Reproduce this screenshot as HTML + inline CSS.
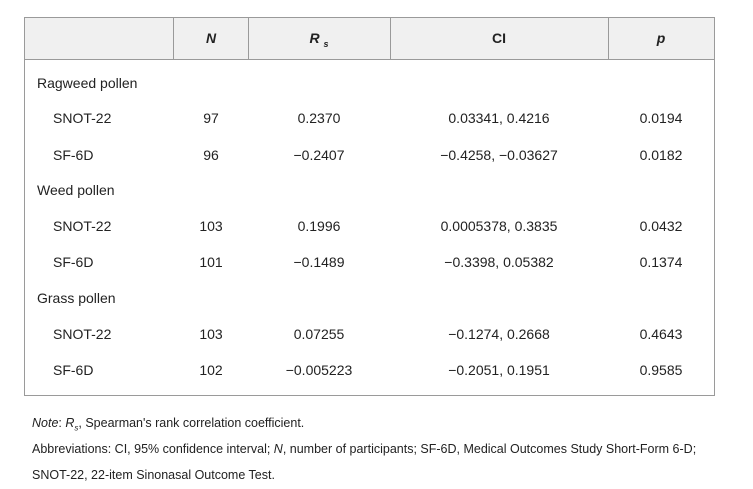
<!DOCTYPE html>
<html><head><meta charset="utf-8"><style>
body{margin:0;width:753px;height:489px;background:#fff;font-family:"Liberation Sans",sans-serif;color:#222;position:relative;overflow:hidden}
.t{position:absolute;font-size:14px;line-height:16px;white-space:nowrap}
.c{transform:translateX(-50%)}
.n{position:absolute;font-size:12.5px;left:32px;white-space:nowrap;line-height:14px}
</style></head><body>
<div style="position:absolute;left:24px;top:17px;width:689px;height:377px;border:1px solid #9a9a9a"></div>
<div style="position:absolute;left:25px;top:18px;width:689px;height:41px;background:#f0f0f0;border-bottom:1px solid #9a9a9a"></div>
<div style="position:absolute;left:173px;top:18px;width:1px;height:41px;background:#9a9a9a"></div>
<div style="position:absolute;left:248px;top:18px;width:1px;height:41px;background:#9a9a9a"></div>
<div style="position:absolute;left:390px;top:18px;width:1px;height:41px;background:#9a9a9a"></div>
<div style="position:absolute;left:608px;top:18px;width:1px;height:41px;background:#9a9a9a"></div>
<div class="t c" style="left:211px;top:30px;font-weight:bold;font-style:italic">N</div>
<div class="t c" style="left:319px;top:30px;font-weight:bold;font-style:italic">R <sub style="font-size:9px">s</sub></div>
<div class="t c" style="left:499px;top:30px;font-weight:bold">CI</div>
<div class="t c" style="left:661px;top:30px;font-weight:bold;font-style:italic">p</div>

<div class="t" style="left:37px;top:75px">Ragweed pollen</div>
<div class="t" style="left:53px;top:110px">SNOT-22</div><div class="t c" style="left:211px;top:110px">97</div><div class="t c" style="left:319px;top:110px">0.2370</div><div class="t c" style="left:499px;top:110px">0.03341, 0.4216</div><div class="t c" style="left:661px;top:110px">0.0194</div>
<div class="t" style="left:53px;top:147px">SF-6D</div><div class="t c" style="left:211px;top:147px">96</div><div class="t c" style="left:319px;top:147px">−0.2407</div><div class="t c" style="left:499px;top:147px">−0.4258, −0.03627</div><div class="t c" style="left:661px;top:147px">0.0182</div>
<div class="t" style="left:37px;top:182px">Weed pollen</div>
<div class="t" style="left:53px;top:218px">SNOT-22</div><div class="t c" style="left:211px;top:218px">103</div><div class="t c" style="left:319px;top:218px">0.1996</div><div class="t c" style="left:499px;top:218px">0.0005378, 0.3835</div><div class="t c" style="left:661px;top:218px">0.0432</div>
<div class="t" style="left:53px;top:254px">SF-6D</div><div class="t c" style="left:211px;top:254px">101</div><div class="t c" style="left:319px;top:254px">−0.1489</div><div class="t c" style="left:499px;top:254px">−0.3398, 0.05382</div><div class="t c" style="left:661px;top:254px">0.1374</div>
<div class="t" style="left:37px;top:290px">Grass pollen</div>
<div class="t" style="left:53px;top:326px">SNOT-22</div><div class="t c" style="left:211px;top:326px">103</div><div class="t c" style="left:319px;top:326px">0.07255</div><div class="t c" style="left:499px;top:326px">−0.1274, 0.2668</div><div class="t c" style="left:661px;top:326px">0.4643</div>
<div class="t" style="left:53px;top:362px">SF-6D</div><div class="t c" style="left:211px;top:362px">102</div><div class="t c" style="left:319px;top:362px">−0.005223</div><div class="t c" style="left:499px;top:362px">−0.2051, 0.1951</div><div class="t c" style="left:661px;top:362px">0.9585</div>

<div class="n" style="top:416px"><i>Note</i>: <i>R<sub style="font-size:8px">s</sub></i>, Spearman's rank correlation coefficient.</div>
<div class="n" style="top:442px">Abbreviations: CI, 95% confidence interval; <i>N</i>, number of participants; SF-6D, Medical Outcomes Study Short-Form 6-D;</div>
<div class="n" style="top:468px">SNOT-22, 22-item Sinonasal Outcome Test.</div>
</body></html>
